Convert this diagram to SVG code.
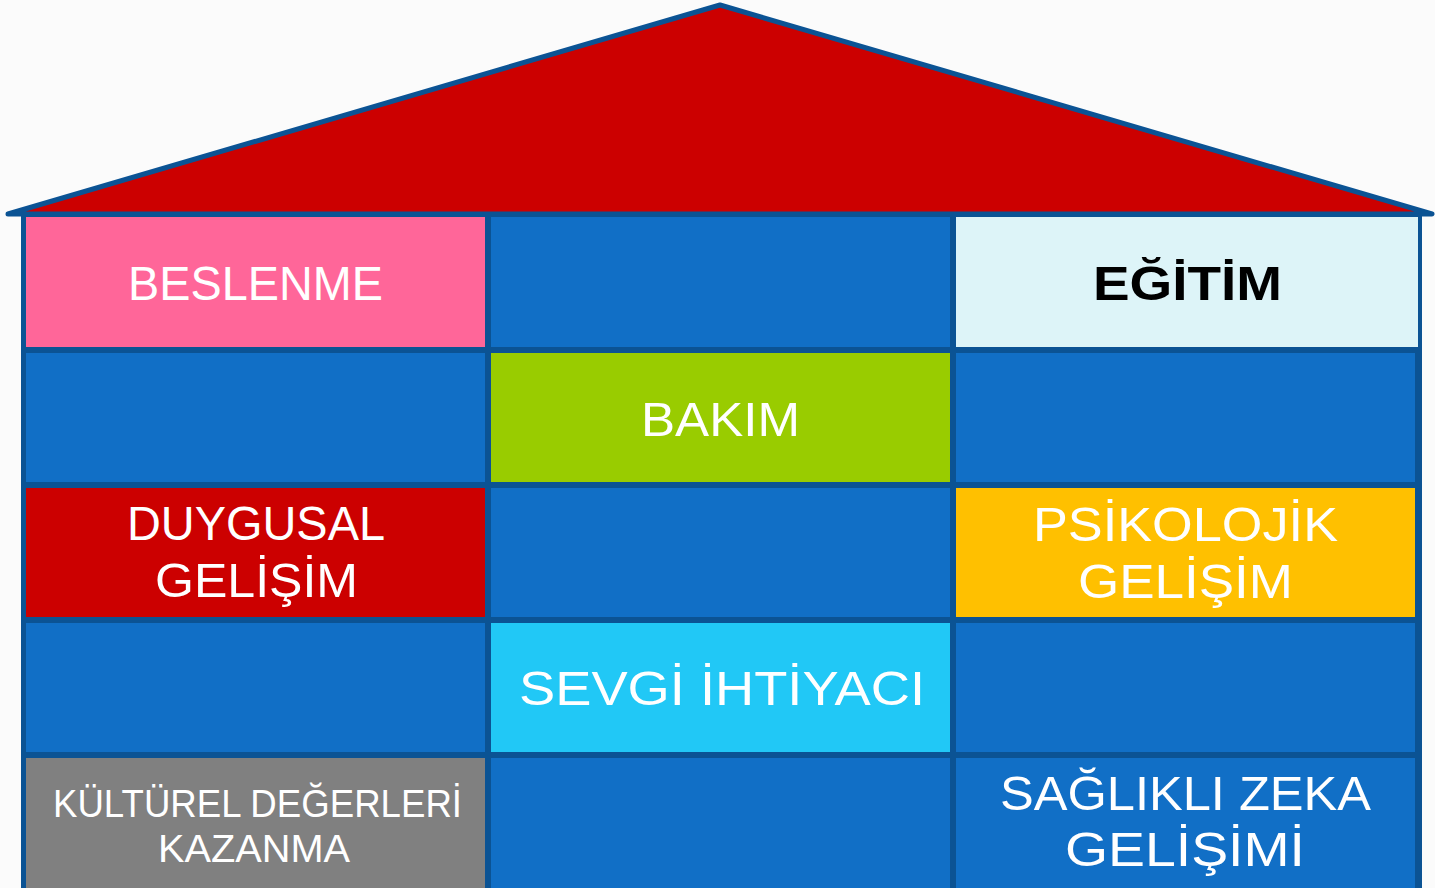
<svg xmlns="http://www.w3.org/2000/svg" width="1435" height="888" viewBox="0 0 1435 888">
<style>
.cell{stroke:none}
.t{font-family:"Liberation Sans",Arial,sans-serif;fill:#ffffff;text-anchor:middle}
.big{font-size:49px}
.small{font-size:39px}
.dark{fill:#000000;font-weight:bold}
</style>
<rect x="0" y="0" width="1435" height="888" fill="#fbfbfb"/>
<g id="roof">
<polygon points="8,214 720,5 1432,214" fill="#cc0000" stroke="#0b5394" stroke-width="5" stroke-linejoin="round"/>
</g>
<g id="grid">
<rect x="21" y="212" width="1401" height="680" fill="#0b5394"/>
</g>
<g id="c11"><rect class="cell" x="26" y="217" width="459" height="130" fill="#ff6699"/><text class="t big" x="255.5" y="300" textLength="255" lengthAdjust="spacingAndGlyphs">BESLENME</text></g>
<g id="c12"><rect class="cell" x="491" y="217" width="459" height="130" fill="#116fc6"/></g>
<g id="c13"><rect class="cell" x="956" y="217" width="462" height="130" fill="#ddf4f8"/><text class="t big dark" x="1187.5" y="300" textLength="189" lengthAdjust="spacingAndGlyphs">EĞİTİM</text></g>
<g id="c21"><rect class="cell" x="26" y="353" width="459" height="129" fill="#116fc6"/></g>
<g id="c22"><rect class="cell" x="491" y="353" width="459" height="129" fill="#99cc00"/><text class="t big" x="720.5" y="436" textLength="159" lengthAdjust="spacingAndGlyphs">BAKIM</text></g>
<g id="c23"><rect class="cell" x="956" y="353" width="459" height="129" fill="#116fc6"/></g>
<g id="c31"><rect class="cell" x="26" y="488" width="459" height="129" fill="#cc0000"/><text class="t big" x="256" y="540" textLength="258" lengthAdjust="spacingAndGlyphs">DUYGUSAL</text><text class="t big" x="256.5" y="597" textLength="203" lengthAdjust="spacingAndGlyphs">GELİŞİM</text></g>
<g id="c32"><rect class="cell" x="491" y="488" width="459" height="129" fill="#116fc6"/></g>
<g id="c33"><rect class="cell" x="956" y="488" width="459" height="129" fill="#ffc000"/><text class="t big" x="1185.5" y="541" textLength="305" lengthAdjust="spacingAndGlyphs">PSİKOLOJİK</text><text class="t big" x="1185.5" y="598" textLength="215" lengthAdjust="spacingAndGlyphs">GELİŞİM</text></g>
<g id="c41"><rect class="cell" x="26" y="623" width="459" height="129" fill="#116fc6"/></g>
<g id="c42"><rect class="cell" x="491" y="623" width="459" height="129" fill="#21c8f6"/><text class="t big" x="722" y="705" textLength="406" lengthAdjust="spacingAndGlyphs">SEVGİ İHTİYACI</text></g>
<g id="c43"><rect class="cell" x="956" y="623" width="459" height="129" fill="#116fc6"/></g>
<g id="c51"><rect class="cell" x="26" y="758" width="459" height="130" fill="#808080"/><text class="t small" x="257.5" y="817" textLength="409" lengthAdjust="spacingAndGlyphs">KÜLTÜREL DEĞERLERİ</text><text class="t small" x="254" y="862" textLength="192" lengthAdjust="spacingAndGlyphs">KAZANMA</text></g>
<g id="c52"><rect class="cell" x="491" y="758" width="459" height="130" fill="#116fc6"/></g>
<g id="c53"><rect class="cell" x="956" y="758" width="459" height="130" fill="#116fc6"/><text class="t big" x="1185.5" y="810" textLength="371" lengthAdjust="spacingAndGlyphs">SAĞLIKLI ZEKA</text><text class="t big" x="1185" y="866" textLength="240" lengthAdjust="spacingAndGlyphs">GELİŞİMİ</text></g>
</svg>
